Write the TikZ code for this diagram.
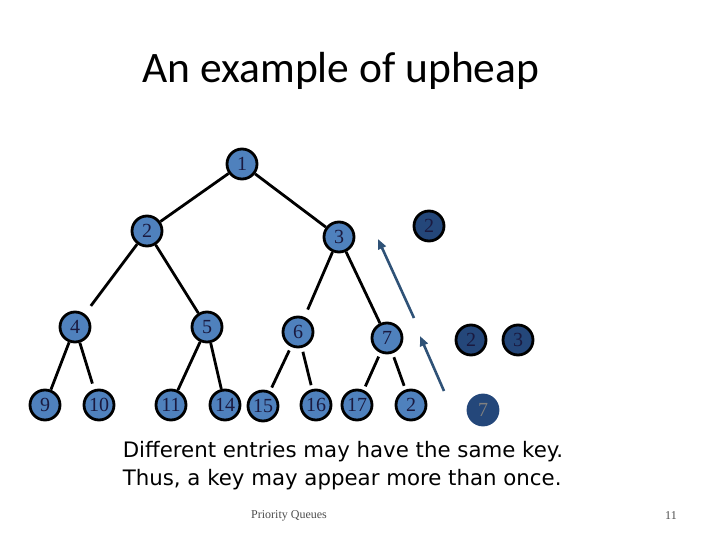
\documentclass[tikz,border=0pt]{standalone}
\usepackage{fontspec}
\setmainfont{Liberation Serif}
\newfontfamily\titlefont{Carlito}
\newfontfamily\bodyfont{DejaVu Sans}
\usetikzlibrary{arrows.meta}

\definecolor{heapblue}{HTML}{4F81BD}
\definecolor{heapdark}{HTML}{24477A}
\definecolor{heaptext}{HTML}{1A1A40}
\definecolor{movearrow}{HTML}{2F5277}

\begin{document}
\begin{tikzpicture}[
  x=1pt, y=-1pt,
  key/.style={
    circle,
    draw=black,
    line width=2.8pt,
    fill=heapblue,
    minimum size=30pt,
    inner sep=0pt,
    text=heaptext,
    font=\fontsize{20}{20}\selectfont
  },
  darkkey/.style={key, fill=heapdark},
  loosekey/.style={key, draw=heapdark, fill=heapdark, text=gray},
  edge/.style={line width=2.8pt},
  move/.style={-{Triangle[length=10pt,width=8pt]}, line width=2.6pt, draw=movearrow}
]
\useasboundingbox (0,0) rectangle (720,540);

% =========================
% Title
% =========================
\node[font=\titlefont\fontsize{43.5}{43.5}\selectfont] (title) at (341,71) {An example of upheap};

% =========================
% Heap
% =========================
\node[key] (n1) at (242,164) {1};
\node[key] (n2) at (147,231) {2};
\node[key] (n3) at (339,237) {3};
\node[key] (n4) at (75,327) {4};
\node[key] (n5) at (207,327) {5};
\node[key] (n6) at (298,332) {6};
\node[key] (n7) at (387,338) {7};
\node[key] (n9) at (45,405) {9};
\node[key] (n10) at (99,405) {10};
\node[key] (n11) at (171,405) {11};
\node[key] (n14) at (225,405) {14};
\node[key] (n15) at (263,406) {15};
\node[key] (n16) at (316,405) {16};
\node[key] (n17) at (357,405) {17};
\node[key] (nnew) at (411,405) {2};

\draw[edge] (n1) -- (n2);
\draw[edge] (n1) -- (n3);
\draw[edge, shorten >=10pt] (n2) -- (n4);
\draw[edge] (n2) -- (n5);
\draw[edge, shorten >=8pt] (n3) -- (n6);
\draw[edge] (n3) -- (n7);
\draw[edge] (n4) -- (n9);
\draw[edge, shorten >=6pt] (n4) -- (n10);
\draw[edge] (n5) -- (n11);
\draw[edge] (n5) -- (n14);
\draw[edge, shorten <=4pt, shorten >=4pt] (n6) -- (n15);
\draw[edge, shorten <=4pt, shorten >=4pt] (n6) -- (n16);
\draw[edge, shorten <=4pt, shorten >=4pt] (n7) -- (n17);
\draw[edge, shorten <=4pt, shorten >=4pt] (n7) -- (nnew);

% =========================
% Keys moving up
% =========================
\node[darkkey] (up2) at (429,226) {2};
\node[darkkey] (swap2) at (471,340) {2};
\node[darkkey] (swap3) at (518,340) {3};
\node[loosekey] (down7) at (483,410) {7};

\coordinate (tail1) at (414,318);
\coordinate (head1) at (378,239);
\coordinate (tail2) at (444,391);
\coordinate (head2) at (420,336);
\draw[move] (tail1) -- (head1);
\draw[move] (tail2) -- (head2);

% =========================
% Notes
% =========================
\node[font=\bodyfont\fontsize{21.3}{28}\selectfont, align=left] (note) at (343,466)
{Different entries may have the same key.\\
Thus, a key may appear more than once.};

\node[font=\fontsize{12}{12}\selectfont, text=gray!60!black] (footer) at (289,516) {Priority Queues};
\node[font=\fontsize{12}{12}\selectfont, text=gray!60!black] (page) at (671,516) {11};

\end{tikzpicture}
\end{document}
